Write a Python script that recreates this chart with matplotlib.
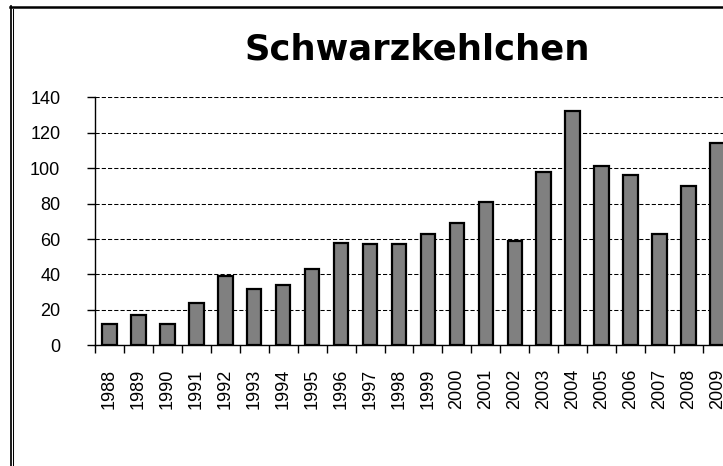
import matplotlib
matplotlib.use("Agg")
import matplotlib.pyplot as plt
from matplotlib.lines import Line2D
import numpy as np

# Schwarzkehlchen counts per year
years = ['1988', '1989', '1990', '1991', '1992', '1993', '1994', '1995', '1996',
         '1997', '1998', '1999', '2000', '2001', '2002', '2003', '2004', '2005',
         '2006', '2007', '2008', '2009']
counts = [12, 17, 12, 24, 39, 32, 34, 43, 58, 57, 57, 63, 69, 81, 59, 98, 132,
          101, 96, 63, 90, 114]
y_ticks = [0, 20, 40, 60, 80, 100, 120, 140]
title = 'Schwarzkehlchen'

plt.rcParams['font.family'] = ['Liberation Sans', 'DejaVu Sans']

W, H = 723, 466
fig = plt.figure(figsize=(W / 100, H / 100), dpi=100)

# plot area in pixel terms: left edge 95, zero line at 345, 28.95 px per year
cat_w = 28.95
ax = fig.add_axes([95 / W, (H - 345.3) / H, len(years) * cat_w / W, 248 / H])

x = np.arange(len(years))
ax.bar(x, counts, width=0.5, color='#808080', edgecolor='black', linewidth=1.6, zorder=3)

ax.set_xlim(-0.5, len(years) - 0.5)
ax.set_ylim(0, 140)
ax.set_yticks(y_ticks)
ax.yaxis.grid(True, color='black', linestyle=(0, (4, 2)), linewidth=0.75)
ax.set_axisbelow(True)

for side in ['top', 'right']:
    ax.spines[side].set_visible(False)
ax.spines['left'].set_linewidth(1.0)
ax.spines['bottom'].set_linewidth(1.0)

ax.set_xticks(x)
ax.set_xticklabels(years, rotation=90)
ax.set_xticks(np.arange(len(years) + 1) - 0.5, minor=True)
ax.tick_params(axis='x', which='major', length=0, pad=17, labelsize=13)
ax.tick_params(axis='x', which='minor', length=6, width=1.0, direction='out')
ax.tick_params(axis='y', length=6, width=1.0, pad=19, labelsize=13)

fig.text(417.5 / W, (H - 60) / H, title, ha='center', va='baseline',
         fontsize=25.5, fontweight='bold', family='DejaVu Sans')

# chart border (double line on the left, thick on top)
fig.add_artist(Line2D([10 / W, 1], [1 - 7 / H, 1 - 7 / H], color='black',
                      linewidth=1.8, transform=fig.transFigure))
fig.add_artist(Line2D([10.9 / W, 10.9 / W], [1 - 6 / H, 0], color='black',
                      linewidth=1.25, transform=fig.transFigure))
fig.add_artist(Line2D([13.3 / W, 13.3 / W], [1 - 8.5 / H, 0], color='black',
                      linewidth=0.75, transform=fig.transFigure))

fig.savefig('out.png', dpi=100)
